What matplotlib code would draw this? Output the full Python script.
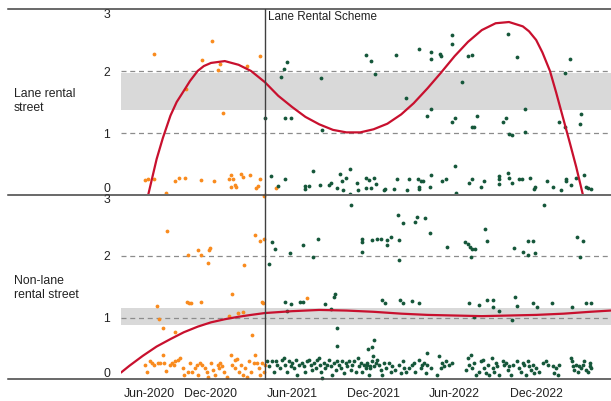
import matplotlib
matplotlib.use('Agg')
import matplotlib.pyplot as plt
import matplotlib.dates as mdates
import matplotlib.transforms as mtransforms
from matplotlib.lines import Line2D
import pandas as pd

plt.rcParams['font.family'] = ['Liberation Sans', 'DejaVu Sans']

# x values of the dots are days since START
START = pd.Timestamp('2020-05-13')
END_DAYS = 1100
SCHEME_DATE = pd.Timestamp('2021-04-01')

row_labels = ['Lane rental\nstreet', 'Non-lane\nrental street']
tick_dates = ['2020-06-01', '2020-12-01', '2021-06-01', '2021-12-01', '2022-06-01', '2022-12-01']
y_ticks = [0, 1, 2, 3]

# ---- Lane rental street ----
lane_pre_days = [54, 60, 73, 75, 101, 122, 131, 144, 146, 180, 182, 204, 208, 218, 223, 228,
                 242, 247, 252, 246, 255, 258, 270, 273, 283, 289, 304, 307, 311, 313, 323, 348]
lane_pre_vals = [0.24, 0.26, 0.26, 2.27, 0.03, 0.23, 0.27, 0.28, 1.71, 0.25, 2.18, 2.49, 0.23, 2.01, 2.11, 1.33,
                 0.26, 0.32, 0.26, 0.13, 0.16, 0.13, 0.34, 0.29, 2.08, 0.32, 0.11, 0.15, 2.24, 0.26, 0.0, 0.11]

lane_post_days = [324, 337, 352, 360, 366, 373, 369, 382, 369, 412, 412, 423, 431, 446, 450, 452,
                  467, 472, 486, 492, 497, 499, 506, 514, 514, 529, 531, 549, 549, 551, 557, 562,
                  561, 568, 570, 572, 591, 593, 613, 618, 619, 639, 641, 647, 668, 666, 668, 668,
                  673, 678, 687, 694, 695, 696, 697, 697, 717, 718, 720, 729, 744, 750, 742, 742,
                  750, 752, 765, 778, 788, 782, 789, 787, 792, 800, 808, 814, 848, 848, 849, 857,
                  864, 868, 868, 870, 872, 877, 877, 889, 894, 900, 908, 908, 919, 927, 930, 957,
                  969, 984, 988, 996, 996, 999, 998, 1009, 1010, 1022, 1032, 1030, 1040, 1044, 1048, 1054]
lane_post_vals = [1.25, 0.31, 0.15, 1.91, 2.04, 2.14, 1.25, 1.25, 0.26, 0.15, 0.10, 0.15, 0.38, 0.16, 1.88, 1.05,
                  0.16, 0.19, 0.12, 0.34, 0.22, 0.08, 0.27, 0.42, 0.01, 0.19, 0.08, 2.26, 0.27, 0.12, 0.24, 2.16,
                  0.12, 0.27, 1.95, 0.18, 0.08, 0.10, 0.10, 2.26, 0.26, 1.57, 0.08, 0.26, 2.35, 0.26, 0.13, 0.10,
                  0.23, 0.23, 1.28, 0.13, 2.19, 2.31, 0.32, 1.39, 2.27, 2.25, 0.23, 0.26, 1.18, 1.25, 2.58, 2.44,
                  0.47, 0.04, 1.83, 2.24, 2.26, 0.19, 0.26, 1.10, 1.10, 1.28, 0.13, 0.23, 0.31, 0.26, 0.18, 1.18,
                  1.24, 2.59, 0.35, 0.99, 0.27, 0.96, 0.20, 2.23, 0.26, 0.26, 1.39, 1.01, 0.27, 0.10, 0.13, 0.23,
                  0.13, 1.17, 0.08, 1.09, 1.96, 0.26, 0.23, 2.20, 0.16, 0.28, 1.30, 1.14, 0.33, 0.13, 0.12, 0.10]

lane_band = (1.37, 1.96)
lane_fit_dates = ['2020-07-01', '2020-07-13', '2020-08-01', '2020-08-15', '2020-09-01', '2020-09-15',
                  '2020-10-01', '2020-10-15', '2020-11-01', '2020-11-15', '2020-12-01', '2021-01-01',
                  '2021-02-01', '2021-03-01', '2021-04-01', '2021-05-01', '2021-06-01', '2021-07-01',
                  '2021-08-01', '2021-09-01', '2021-10-01', '2021-11-01', '2021-12-01', '2022-01-01',
                  '2022-02-01', '2022-03-01', '2022-04-01', '2022-05-01', '2022-06-01', '2022-07-01',
                  '2022-08-01', '2022-09-01', '2022-10-01', '2022-11-01', '2022-11-15', '2022-12-01',
                  '2022-12-15', '2023-01-01', '2023-01-15', '2023-02-01', '2023-02-15', '2023-03-01',
                  '2023-03-16', '2023-04-01']
lane_fit_vals = [-0.35, 0.0, 0.58, 0.92, 1.28, 1.50, 1.68, 1.84, 2.0, 2.08, 2.13, 2.16,
                 2.10, 2.0, 1.82, 1.60, 1.42, 1.26, 1.14, 1.05, 1.01, 1.01, 1.06, 1.15,
                 1.30, 1.48, 1.72, 1.97, 2.24, 2.47, 2.66, 2.77, 2.79, 2.72, 2.64, 2.50,
                 2.30, 2.0, 1.65, 1.2, 0.83, 0.45, 0.0, -0.5]

# ---- Non-lane rental street ----
non_pre_days = [80, 86, 94, 103, 122, 150, 148, 152, 157, 172, 180, 180, 197, 199, 195, 242,
                249, 262, 274, 277, 293, 300, 312, 317, 319, 322, 322, 417,
                54, 58, 64, 69, 73, 82, 88, 94, 96, 101, 109, 114, 118, 122, 127, 133,
                139, 142, 150, 156, 159, 165, 171, 172, 177, 182, 189, 192, 195, 201, 207, 212,
                217, 219, 223, 227, 231, 238, 246, 249, 255, 257, 261, 264, 270, 274, 279, 283,
                287, 292, 298, 300, 306, 309, 313, 317, 321, 324]
non_pre_vals = [1.19, 0.99, 0.84, 2.40, 0.78, 2.02, 1.26, 1.25, 1.24, 2.09, 2.01, 1.26, 2.10, 2.13, 1.88, 1.04,
                1.39, 1.08, 1.09, 1.85, 0.73, 2.34, 2.25, 1.26, 1.24, 2.28, 2.97, 1.33,
                0.25, 0.13, 0.30, 0.27, 0.24, 0.28, 0.28, 0.40, 0.27, 0.15, 0.24, 0.27, 0.24, 0.30, 0.32, 0.35,
                0.19, 0.08, 0.13, 0.27, 0.13, 0.19, 0.24, 0.08, 0.27, 0.24, 0.19, 0.13, 0.05, 0.27, 0.16, 0.08,
                0.24, 0.19, 0.27, 0.22, 0.13, 0.05, 0.40, 0.24, 0.32, 0.19, 0.34, 0.13, 0.24, 0.08, 0.19, 0.05,
                0.30, 0.13, 0.27, 0.40, 0.27, 0.19, 0.08, 0.27, 0.13, 0.24]

non_post_days = [332, 339, 345, 369, 373, 380, 382, 402, 408, 408, 431, 442, 459, 472, 478, 480,
                 484, 486, 516, 541, 541, 541,
                 563, 575, 583, 598, 598, 605, 622, 632, 624, 624, 661, 665, 682, 694, 731, 773,
                 778, 783, 789, 794, 786, 817, 821, 883, 903, 913, 913, 926, 929, 949, 1023, 1037, 1031,
                 585, 592, 626, 633, 654, 669, 782, 803, 793, 821, 836, 834, 848, 878, 885, 890,
                 924, 934, 968, 1012, 1044, 1054,
                 555, 564, 569, 565, 686, 713,
                 328, 332, 339, 343, 347, 351, 358, 362, 366, 369, 373, 377, 381, 384, 388, 392,
                 396, 399, 407, 411, 414, 418, 422, 426, 429, 433, 437, 441, 444, 447, 448, 452,
                 456, 459, 463, 467, 471, 474, 478, 482, 486, 489, 493, 497, 501, 504, 508, 512,
                 516, 519, 523, 527, 531, 534, 538, 542, 546, 549, 553, 557, 559,
                 553, 558, 563, 568, 572, 575, 579, 583, 586, 590, 594, 601, 605, 609, 616, 624,
                 628, 632, 635, 639, 646, 654, 658, 661, 669, 673, 676, 680, 684, 688, 695, 710,
                 718, 721, 725, 729, 736, 744, 774, 778, 782, 785, 789, 793, 797, 804, 808, 812,
                 815, 819, 823, 827, 833, 834, 838, 842, 845, 849, 857, 860, 864, 868, 872, 875,
                 879, 890, 894, 898, 902, 905, 909, 913, 917, 920, 924, 928, 932, 939, 947, 954,
                 958, 969, 973, 977, 980, 984, 1010, 1013, 1014, 1018, 1022, 1025, 1029, 1033, 1037, 1040,
                 1044, 1048, 1052, 1053, 1055]
non_post_vals = [1.87, 2.22, 2.11, 1.26, 1.11, 2.05, 1.23, 1.26, 1.26, 2.17, 1.99, 2.28, 1.23, 1.14, 1.34, 1.38,
                 0.84, 0.55, 2.83, 2.27, 2.22, 2.07,
                 2.26, 2.28, 2.28, 2.17, 2.26, 2.30, 2.66, 2.54, 1.94, 2.26, 2.55, 2.63, 2.62, 2.37, 2.15, 2.23,
                 2.20, 2.15, 2.12, 2.11, 1.99, 2.43, 2.25, 2.13, 2.07, 2.02, 2.25, 2.25, 2.05, 2.83, 2.30, 2.25, 1.99,
                 1.29, 1.25, 1.29, 1.25, 1.27, 1.25, 1.25, 1.21, 1.01, 1.29, 1.29, 1.18, 1.11, 0.96, 1.34, 1.19,
                 1.25, 1.17, 1.24, 1.17, 1.24, 1.24,
                 0.50, 0.54, 0.65, 0.39, 0.44, 0.39,
                 0.30, 0.22, 0.31, 0.13, 0.30, 0.24, 0.19, 0.32, 0.36, 0.24, 0.13, 0.30, 0.22, 0.27, 0.19, 0.32,
                 0.08, 0.24, 0.27, 0.22, 0.13, 0.30, 0.32, 0.24, 0.16, 0.27, 0.19, 0.32, 0.35, 0.24, 0.13, 0.04,
                 0.27, 0.19, 0.24, 0.32, 0.22, 0.08, 0.27, 0.16, 0.30, 0.24, 0.19, 0.30, 0.11, 0.27, 0.22, 0.30,
                 0.16, 0.24, 0.30, 0.13, 0.35, 0.22, 0.27, 0.13, 0.24, 0.19, 0.27, 0.08, 0.22,
                 0.24, 0.19, 0.30, 0.22, 0.27, 0.32, 0.24, 0.16, 0.08, 0.27, 0.19, 0.27, 0.13, 0.22, 0.16, 0.24,
                 0.11, 0.30, 0.19, 0.13, 0.19, 0.24, 0.27, 0.13, 0.32, 0.19, 0.24, 0.27, 0.11, 0.24, 0.19, 0.08,
                 0.19, 0.27, 0.22, 0.30, 0.24, 0.27, 0.16, 0.35, 0.24, 0.40, 0.19, 0.27, 0.08, 0.13, 0.30, 0.32,
                 0.19, 0.11, 0.24, 0.08, 0.35, 0.19, 0.13, 0.27, 0.22, 0.08, 0.30, 0.24, 0.27, 0.16, 0.22, 0.08,
                 0.24, 0.30, 0.19, 0.13, 0.27, 0.24, 0.08, 0.30, 0.22, 0.16, 0.24, 0.11, 0.19, 0.13, 0.27, 0.30,
                 0.24, 0.22, 0.11, 0.19, 0.08, 0.24, 0.35, 0.30, 0.22, 0.16, 0.24, 0.13, 0.22, 0.19, 0.24, 0.30,
                 0.16, 0.13, 0.27, 0.22, 0.19]

non_band = (0.89, 1.16)
non_fit_dates = ['2020-05-13', '2020-06-01', '2020-07-01', '2020-08-01', '2020-09-01', '2020-10-01',
                 '2020-11-01', '2020-12-01', '2021-01-01', '2021-02-01', '2021-03-01', '2021-04-01',
                 '2021-06-01', '2021-08-01', '2021-10-01', '2021-12-01', '2022-02-01', '2022-04-01',
                 '2022-06-01', '2022-08-01', '2022-10-01', '2022-12-01', '2023-02-01', '2023-04-01',
                 '2023-05-17']
non_fit_vals = [0.12, 0.23, 0.39, 0.54, 0.66, 0.77, 0.86, 0.93, 0.98, 1.02, 1.05, 1.08,
                1.11, 1.13, 1.12, 1.10, 1.07, 1.05, 1.04, 1.03, 1.04, 1.05, 1.07, 1.10, 1.12]

ORANGE = '#f98b1e'
GREEN = '#15573a'
RED = '#c8102e'
FRAME = '#404040'
TEXT = '#222222'


def to_dates(days):
    return START + pd.to_timedelta(days, unit='D')


fig = plt.figure(figsize=(6.11, 4.01), dpi=100)
W, H = 611, 401
ax_top = fig.add_axes([121 / W, (H - 195) / H, 490 / W, 186 / H])
ax_bot = fig.add_axes([121 / W, (H - 380) / H, 490 / W, 186 / H])

panels = [
    (ax_top, lane_pre_days, lane_pre_vals, lane_post_days, lane_post_vals, lane_band, lane_fit_dates, lane_fit_vals),
    (ax_bot, non_pre_days, non_pre_vals, non_post_days, non_post_vals, non_band, non_fit_dates, non_fit_vals),
]

for ax, pre_d, pre_v, post_d, post_v, band, fit_d, fit_v in panels:
    ax.set_xlim(START, START + pd.Timedelta(days=END_DAYS))
    ax.set_ylim(0, 3)
    ax.axhspan(band[0], band[1], color='#d9d9d9', lw=0, zorder=1)
    for yv in (1, 2):
        ax.axhline(yv, color='#8c8c8c', lw=0.9, ls=(0, (4, 3)), zorder=2)
    ax.scatter(to_dates(pre_d), pre_v, s=7.5, color=ORANGE, lw=0, zorder=3, clip_on=False)
    ax.scatter(to_dates(post_d), post_v, s=7.5, color=GREEN, lw=0, zorder=3, clip_on=False)
    ax.plot(pd.to_datetime(fit_d), fit_v, color=RED, lw=1.6, zorder=4,
            solid_capstyle='round', solid_joinstyle='round')
    ax.axvline(SCHEME_DATE, color=FRAME, lw=1.0, zorder=5)
    for s in ax.spines.values():
        s.set_visible(False)
    ax.set_yticks(y_ticks)
    ax.tick_params(axis='y', length=0, pad=8, labelsize=8.8, labelcolor=TEXT)
    labels = ax.get_yticklabels()
    labels[0].set_va('bottom')
    labels[-1].set_va('top')

ax_top.set_xticks([])
ax_bot.set_xticks(pd.to_datetime(tick_dates))
ax_bot.xaxis.set_major_formatter(mdates.DateFormatter('%b-%Y'))
ax_bot.tick_params(axis='x', length=0, pad=6, labelsize=8.8, labelcolor=TEXT)
first = ax_bot.get_xticklabels()[0]
first.set_ha('left')
first.set_transform(first.get_transform() +
                    mtransforms.ScaledTranslation(-6 / 100, 0, fig.dpi_scale_trans))

ax_top.annotate('Lane Rental Scheme', xy=(SCHEME_DATE, 3), xytext=(2, -1.5),
                textcoords='offset points', ha='left', va='top', fontsize=8.4, color=TEXT)

# frame lines running across the label column too
for ypx in (9, 195, 379):
    fig.add_artist(Line2D([8 / W, 1.0], [(H - ypx) / H] * 2, color=FRAME, lw=1.1))

fig.text(14 / W, (H - 101) / H, row_labels[0], ha='left', va='center', fontsize=8.8,
         color=TEXT, linespacing=1.3)
fig.text(14 / W, (H - 288) / H, row_labels[1], ha='left', va='center', fontsize=8.8,
         color=TEXT, linespacing=1.3)

fig.savefig('out.png', dpi=100)
plt.close(fig)
